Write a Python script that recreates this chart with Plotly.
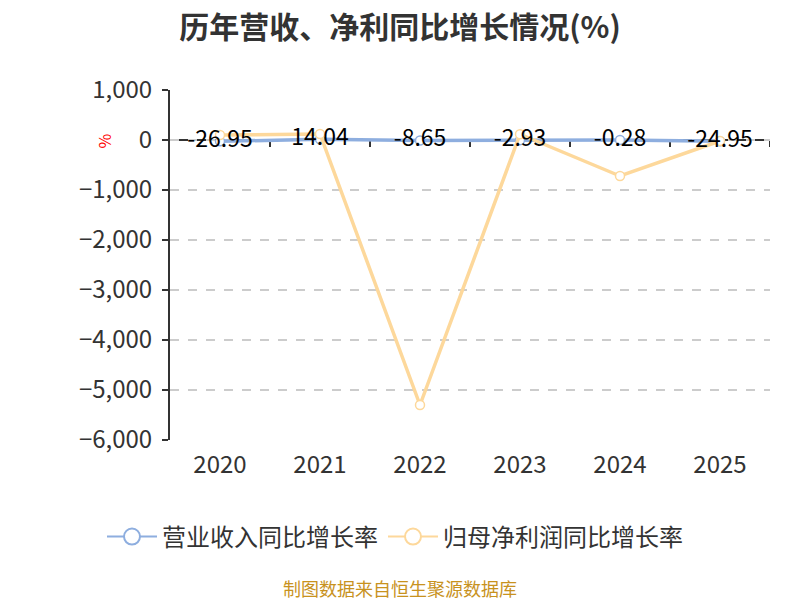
import plotly.graph_objects as go

years = ["2020", "2021", "2022", "2023", "2024", "2025"]
revenue_growth = [-26.95, 14.04, -8.65, -2.93, -0.28, -24.95]
profit_growth = [100, 120, -5300, 115, -720, -20]
revenue_name = "营业收入同比增长率"
profit_name = "归母净利润同比增长率"
title_text = "历年营收、净利同比增长情况(%)"
source_text = "制图数据来自恒生聚源数据库"
y_ticks = [1000, 0, -1000, -2000, -3000, -4000, -5000, -6000]

FONT = "Noto Sans CJK SC, Microsoft YaHei, sans-serif"
BLUE = "#8eaedf"
ORANGE = "#fdd89b"

fig = go.Figure()
fig.add_trace(go.Scatter(
    x=years, y=revenue_growth, name=revenue_name, mode="lines+markers", showlegend=False,
    line=dict(color=BLUE, width=3.5),
    marker=dict(symbol="circle", size=9, color="white", line=dict(color=BLUE, width=1.5)),
))
fig.add_trace(go.Scatter(
    x=years, y=profit_growth, name=profit_name, mode="lines+markers", showlegend=False,
    line=dict(color=ORANGE, width=3.5),
    marker=dict(symbol="circle", size=9, color="white", line=dict(color=ORANGE, width=1.5)),
))
fig.add_trace(go.Scatter(
    x=years, y=revenue_growth, mode="text", showlegend=False, hoverinfo="skip",
    text=[f"{v:.2f}" for v in revenue_growth], textposition="middle center",
    textfont=dict(size=23, color="#000000", family=FONT),
))
# legend entries (larger symbols, as in the reference legend)
for name, color in [(revenue_name, BLUE), (profit_name, ORANGE)]:
    fig.add_trace(go.Scatter(
        x=[None], y=[None], name=name, mode="lines+markers", showlegend=True,
        line=dict(color=color, width=2),
        marker=dict(symbol="circle", size=16, color="white", line=dict(color=color, width=2)),
    ))

# x axis line at zero with boundary ticks
fig.add_shape(type="line", xref="paper", yref="y", x0=0, x1=1, y0=0, y1=0,
              line=dict(color="#333333", width=2), layer="below")
for i in range(len(years)):
    fig.add_shape(type="line", xref="x", yref="y", x0=i + 0.5, x1=i + 0.5,
                  ysizemode="pixel", yanchor=0, y0=0, y1=-7,
                  line=dict(color="#333333", width=2), layer="below")

fig.update_layout(
    width=800, height=600,
    paper_bgcolor="white", plot_bgcolor="white",
    margin=dict(l=162, r=38, t=82, b=168),
    font=dict(family=FONT, color="#333333"),
    title=dict(text=f"<b>{title_text}</b>", x=0.49, xanchor="center", y=0.968, yanchor="middle",
               font=dict(size=30, color="#333333", family=FONT)),
    showlegend=True,
    legend=dict(orientation="h", x=0.375, xanchor="center", y=-0.277, yanchor="middle",
                font=dict(size=24, color="#333333", family=FONT), itemwidth=50,
                traceorder="normal"),
    xaxis=dict(type="category", categoryorder="array", categoryarray=years,
               range=[-0.5, 5.5], showline=False, showgrid=False, zeroline=False,
               ticks="", tickfont=dict(size=24, color="#333333"), ticklabelstandoff=8),
    yaxis=dict(range=[-6000, 1000], tickvals=y_ticks, tickformat=",", showline=True,
               linecolor="#333333", linewidth=2, ticks="outside", ticklen=6, tickwidth=2,
               tickcolor="#333333", showgrid=True, gridcolor="#cccccc", griddash="dash",
               gridwidth=1.5, zeroline=False, ticklabelstandoff=5,
               tickfont=dict(size=24, color="#333333")),
    annotations=[
        dict(text="%", xref="paper", yref="paper", x=-0.135, y=0.88, showarrow=False,
             textangle=-90, font=dict(size=16, color="#ff0000", family=FONT)),
        dict(text=source_text, xref="paper", yref="paper", x=0.383, y=-0.424,
             xanchor="center", yanchor="middle", showarrow=False,
             font=dict(size=18, color="#c8921e", family=FONT)),
    ],
)

fig.write_html("out.html")
